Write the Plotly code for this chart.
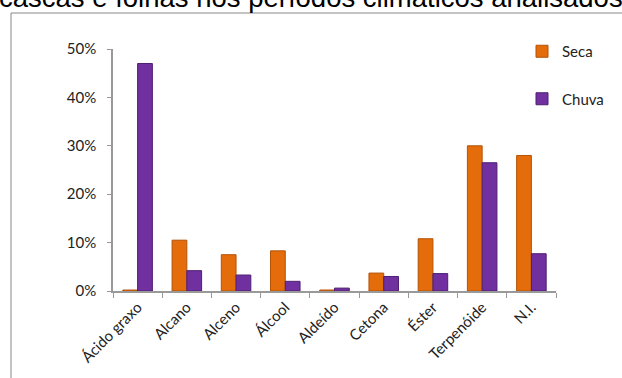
import plotly.graph_objects as go

categories = ["Ácido graxo", "Alcano", "Alceno", "Álcool", "Aldeído", "Cetona", "Éster", "Terpenóide", "N.I."]
seca = [0.002, 0.105, 0.075, 0.083, 0.002, 0.037, 0.108, 0.300, 0.280]
chuva = [0.470, 0.042, 0.033, 0.020, 0.006, 0.030, 0.036, 0.265, 0.077]
title_text = "cascas e folhas nos períodos climáticos analisados"

W, H = 622, 378
L, R, T, B = 113, 66, 49, 87
pw, ph = W - L - R, H - T - B

def px_x(px):
    return (px - L) / pw

def px_y(py):
    return (H - B - py) / ph

fig = go.Figure()
fig.add_trace(go.Bar(x=categories, y=seca, name="Seca", marker=dict(color="#E46C0A", line=dict(color="#B35408", width=1)), legendgroup="a"))
fig.add_trace(go.Bar(x=categories, y=chuva, name="Chuva", marker=dict(color="#7030A0", line=dict(color="#4E1F72", width=1)), legendgroup="b"))

fig.update_layout(
    width=W, height=H,
    margin=dict(l=L, r=R, t=T, b=B),
    paper_bgcolor="white", plot_bgcolor="white",
    barmode="group", bargap=0.4, bargroupgap=0.0,
    font=dict(family="Lato", size=15, color="#222"),
    showlegend=True,
    legend=dict(x=px_x(522), y=px_y(35), xanchor="left", yanchor="top",
                tracegroupgap=25, font=dict(size=15, family="Lato"),
                bgcolor="rgba(0,0,0,0)", itemwidth=30),
    xaxis=dict(showgrid=False, showline=True, linecolor="#999", linewidth=1.5,
               ticks="outside", tickcolor="#999", ticklen=5, tickson="boundaries",
               tickangle=-45, tickfont=dict(size=15)),
    yaxis=dict(range=[0, 0.5], dtick=0.1, tickformat=".0%", showgrid=False,
               showline=True, linecolor="#999", linewidth=1.5, ticks="outside",
               tickcolor="#999", ticklen=4, zeroline=False, tickfont=dict(size=15),
               ticklabelstandoff=8),
)

fig.add_shape(type="rect", xref="paper", yref="paper",
              x0=px_x(11), x1=px_x(640), y0=px_y(400), y1=px_y(13),
              line=dict(color="#888", width=1), fillcolor="rgba(0,0,0,0)", layer="below")

fig.add_annotation(text=title_text, xref="paper", yref="paper",
                   x=px_x(-3), y=px_y(15), xanchor="left", yanchor="bottom",
                   showarrow=False, font=dict(family="Liberation Sans", size=27.5, color="#000"))

fig.write_html("out.html")
